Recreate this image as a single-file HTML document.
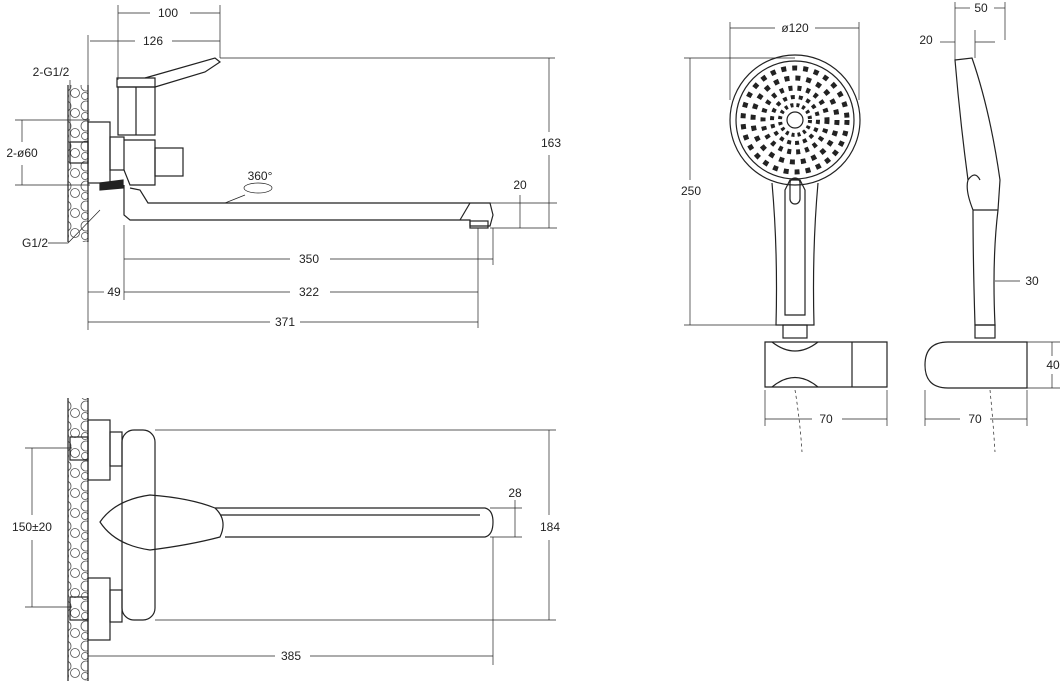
<!DOCTYPE html>
<html><head><meta charset="utf-8"><style>
html,body{margin:0;padding:0;background:#fff;}
svg{display:block;}
text{font-family:"Liberation Sans",sans-serif;font-size:12px;fill:#222;}
</style></head><body>
<svg width="1063" height="681" viewBox="0 0 1063 681" xmlns="http://www.w3.org/2000/svg">
<defs>
<pattern id="peb" width="20" height="20" patternUnits="userSpaceOnUse">
<circle cx="6" cy="6" r="5" fill="none" stroke="#555" stroke-width="0.8"/>
<circle cx="15" cy="13" r="4.5" fill="none" stroke="#555" stroke-width="0.8"/>
<circle cx="5" cy="16" r="3.5" fill="none" stroke="#555" stroke-width="0.8"/>
</pattern>
</defs>
<g fill="none" stroke="#222" stroke-width="1.2">
<!-- ===== TOP LEFT VIEW ===== -->
<rect x="68" y="85" width="20" height="157" fill="url(#peb)" stroke="none"/>
<line x1="68" y1="85" x2="68" y2="242"/><line x1="88" y1="85" x2="88" y2="242"/>
<rect x="70" y="142" width="18" height="21"/>
<rect x="88" y="122" width="22" height="61"/>
<rect x="110" y="137" width="14" height="33"/>
<rect x="118" y="87" width="37" height="48"/>
<line x1="136" y1="87" x2="136" y2="135"/>
<path d="M117 78 L155 78 L155 87 L117 87 Z"/>
<path d="M145 78 L215 58 L220 62 L205 72 L155 87"/>
<rect x="155" y="148" width="28" height="28"/>
<path d="M124 140 L155 140 L155 185 L130 185 L124 170"/>
<path d="M100 183 L123 180 L123 188 L100 190 Z" fill="#222"/>
<path d="M124 185 L124 215 L130 220 L470 220 L470 226 L490 226 L493 215 L490 203 L148 203 L140 190 L130 188"/>
<line x1="470" y1="203" x2="460" y2="220"/>
<rect x="470" y="221" width="18" height="7"/>
<g stroke-width="0.7">
<line x1="118" y1="5" x2="118" y2="80"/><line x1="220" y1="5" x2="220" y2="58"/>
<line x1="118" y1="13" x2="150" y2="13"/><line x1="190" y1="13" x2="220" y2="13"/>
<line x1="90" y1="41" x2="135" y2="41"/><line x1="172" y1="41" x2="220" y2="41"/>
<line x1="88" y1="35" x2="88" y2="330"/>
<line x1="220" y1="58" x2="555" y2="58"/>
<line x1="549" y1="58" x2="549" y2="132"/><line x1="549" y1="155" x2="549" y2="228"/>
<line x1="490" y1="203" x2="557" y2="203"/><line x1="490" y1="228" x2="557" y2="228"/>
<line x1="520" y1="195" x2="520" y2="228"/>
<line x1="124" y1="225" x2="124" y2="300"/><line x1="493" y1="228" x2="493" y2="265"/>
<line x1="478" y1="228" x2="478" y2="328"/>
<line x1="124" y1="259" x2="290" y2="259"/><line x1="330" y1="259" x2="493" y2="259"/>
<line x1="88" y1="292" x2="104" y2="292"/><line x1="124" y1="292" x2="290" y2="292"/><line x1="330" y1="292" x2="478" y2="292"/>
<line x1="88" y1="322" x2="270" y2="322"/><line x1="300" y1="322" x2="478" y2="322"/>
<line x1="15" y1="120" x2="90" y2="120"/><line x1="15" y1="185" x2="90" y2="185"/>
<line x1="22" y1="120" x2="22" y2="142"/><line x1="22" y1="165" x2="22" y2="185"/>
<line x1="70" y1="80" x2="70" y2="142"/>
<path d="M48 243 L68 243 L100 210"/>
<line x1="225" y1="203" x2="245" y2="195"/>
<ellipse cx="258" cy="188" rx="14" ry="5"/>
</g>
<!-- ===== BOTTOM LEFT VIEW ===== -->
<rect x="68" y="398" width="20" height="283" fill="url(#peb)" stroke="none"/>
<line x1="68" y1="398" x2="68" y2="681"/><line x1="88" y1="398" x2="88" y2="681"/>
<rect x="70" y="437" width="18" height="23"/><rect x="70" y="597" width="18" height="23"/>
<rect x="88" y="420" width="22" height="60"/><rect x="88" y="578" width="22" height="62"/>
<rect x="110" y="432" width="12" height="34"/><rect x="110" y="590" width="12" height="32"/>
<rect x="122" y="430" width="33" height="190" rx="12"/>
<path d="M215 508 L485 508 Q493 510 493 522 Q493 535 485 537 L225 537"/>
<line x1="220" y1="515" x2="480" y2="515"/>
<path d="M100 522 Q115 500 150 495 Q190 498 215 508 Q228 520 220 537 Q190 545 150 550 Q115 545 100 522 Z"/>
<g stroke-width="0.7">
<line x1="155" y1="430" x2="556" y2="430"/><line x1="155" y1="620" x2="556" y2="620"/>
<line x1="549" y1="430" x2="549" y2="515"/><line x1="549" y1="540" x2="549" y2="620"/>
<line x1="490" y1="508" x2="522" y2="508"/><line x1="490" y1="537" x2="522" y2="537"/>
<line x1="515" y1="500" x2="515" y2="537"/>
<line x1="25" y1="448" x2="72" y2="448"/><line x1="25" y1="607" x2="72" y2="607"/>
<line x1="32" y1="448" x2="32" y2="515"/><line x1="32" y1="540" x2="32" y2="607"/>
<line x1="88" y1="640" x2="88" y2="665"/><line x1="493" y1="537" x2="493" y2="665"/>
<line x1="88" y1="656" x2="275" y2="656"/><line x1="310" y1="656" x2="493" y2="656"/>
</g>
<!-- ===== SHOWER FRONT ===== -->
<circle cx="795" cy="120" r="65"/>
<circle cx="795" cy="120" r="59"/>
<circle cx="795" cy="120" r="52" stroke-width="5" stroke-dasharray="5 6"/>
<circle cx="795" cy="120" r="42" stroke-width="5" stroke-dasharray="5 6"/>
<circle cx="795" cy="120" r="32" stroke-width="5" stroke-dasharray="4 5"/>
<circle cx="795" cy="120" r="23" stroke-width="4" stroke-dasharray="4 4"/>
<circle cx="795" cy="120" r="15" stroke-width="4" stroke-dasharray="3 3"/>
<circle cx="795" cy="120" r="8"/>
<path d="M772 183 Q778 250 776 325 L814 325 Q812 250 818 183"/>
<path d="M785 190 L790 180 L800 180 L805 190 L805 315 L785 315 Z"/>
<rect x="790" y="178" width="10" height="26" rx="5"/>
<rect x="783" y="325" width="24" height="13"/>
<path d="M765 342 L887 342 L887 387 L765 387 Z"/>
<line x1="852" y1="342" x2="852" y2="387"/>
<path d="M772 342 Q795 360 818 342 M772 387 Q795 368 818 387"/>
<g stroke-width="0.7">
<line x1="730" y1="22" x2="730" y2="100"/><line x1="859" y1="22" x2="859" y2="100"/>
<line x1="730" y1="28" x2="775" y2="28"/><line x1="815" y1="28" x2="859" y2="28"/>
<line x1="684" y1="58" x2="795" y2="58"/><line x1="684" y1="325" x2="776" y2="325"/>
<line x1="690" y1="58" x2="690" y2="180"/><line x1="690" y1="200" x2="690" y2="325"/>
<line x1="765" y1="390" x2="765" y2="426"/><line x1="887" y1="390" x2="887" y2="426"/>
<line x1="765" y1="419" x2="812" y2="419"/><line x1="842" y1="419" x2="887" y2="419"/>
<path d="M795 390 Q800 420 802 452" stroke-dasharray="3 3"/>
</g>
<!-- ===== SHOWER SIDE ===== -->
<path d="M955 60 L972 58 Q990 110 1000 180 L998 210 Q992 260 995 325 L975 325 Q973 260 973 210 Q965 190 968 180 Q960 120 955 60 Z"/>
<path d="M968 180 Q975 170 980 180"/>
<line x1="973" y1="210" x2="998" y2="210"/>
<rect x="975" y="325" width="20" height="13"/>
<path d="M948 342 L1027 342 L1027 388 L948 388 Q925 388 925 365 Q925 342 948 342 Z"/>
<g stroke-width="0.7">
<line x1="955" y1="2" x2="955" y2="60"/><line x1="1005" y1="2" x2="1005" y2="40"/>
<line x1="955" y1="8" x2="970" y2="8"/><line x1="994" y1="8" x2="1005" y2="8"/>
<line x1="940" y1="42" x2="955" y2="42"/><line x1="975" y1="42" x2="995" y2="42"/>
<line x1="975" y1="30" x2="975" y2="58"/>
<line x1="995" y1="281" x2="1020" y2="281"/>
<line x1="1027" y1="342" x2="1060" y2="342"/><line x1="1027" y1="388" x2="1060" y2="388"/>
<line x1="1052" y1="342" x2="1052" y2="356"/><line x1="1052" y1="374" x2="1052" y2="388"/>
<line x1="925" y1="390" x2="925" y2="426"/><line x1="1027" y1="390" x2="1027" y2="426"/>
<line x1="925" y1="419" x2="960" y2="419"/><line x1="990" y1="419" x2="1027" y2="419"/>
<path d="M990 390 Q993 420 995 452" stroke-dasharray="3 3"/>
</g>
</g>
<g text-anchor="middle">
<text x="168" y="17">100</text><text x="153" y="45">126</text>
<text x="51" y="76">2-G1/2</text><text x="22" y="157">2-ø60</text><text x="35" y="247">G1/2</text>
<text x="260" y="180">360°</text>
<text x="551" y="147">163</text><text x="520" y="189">20</text>
<text x="309" y="263">350</text><text x="114" y="296">49</text><text x="309" y="296">322</text><text x="285" y="326">371</text>
<text x="32" y="531">150±20</text><text x="550" y="531">184</text><text x="515" y="497">28</text><text x="291" y="660">385</text>
<text x="795" y="32">ø120</text><text x="691" y="195">250</text><text x="826" y="423">70</text>
<text x="981" y="12">50</text><text x="926" y="44">20</text><text x="1032" y="285">30</text>
<text x="1053" y="369">40</text><text x="975" y="423">70</text>
</g>
</svg>
</body></html>
